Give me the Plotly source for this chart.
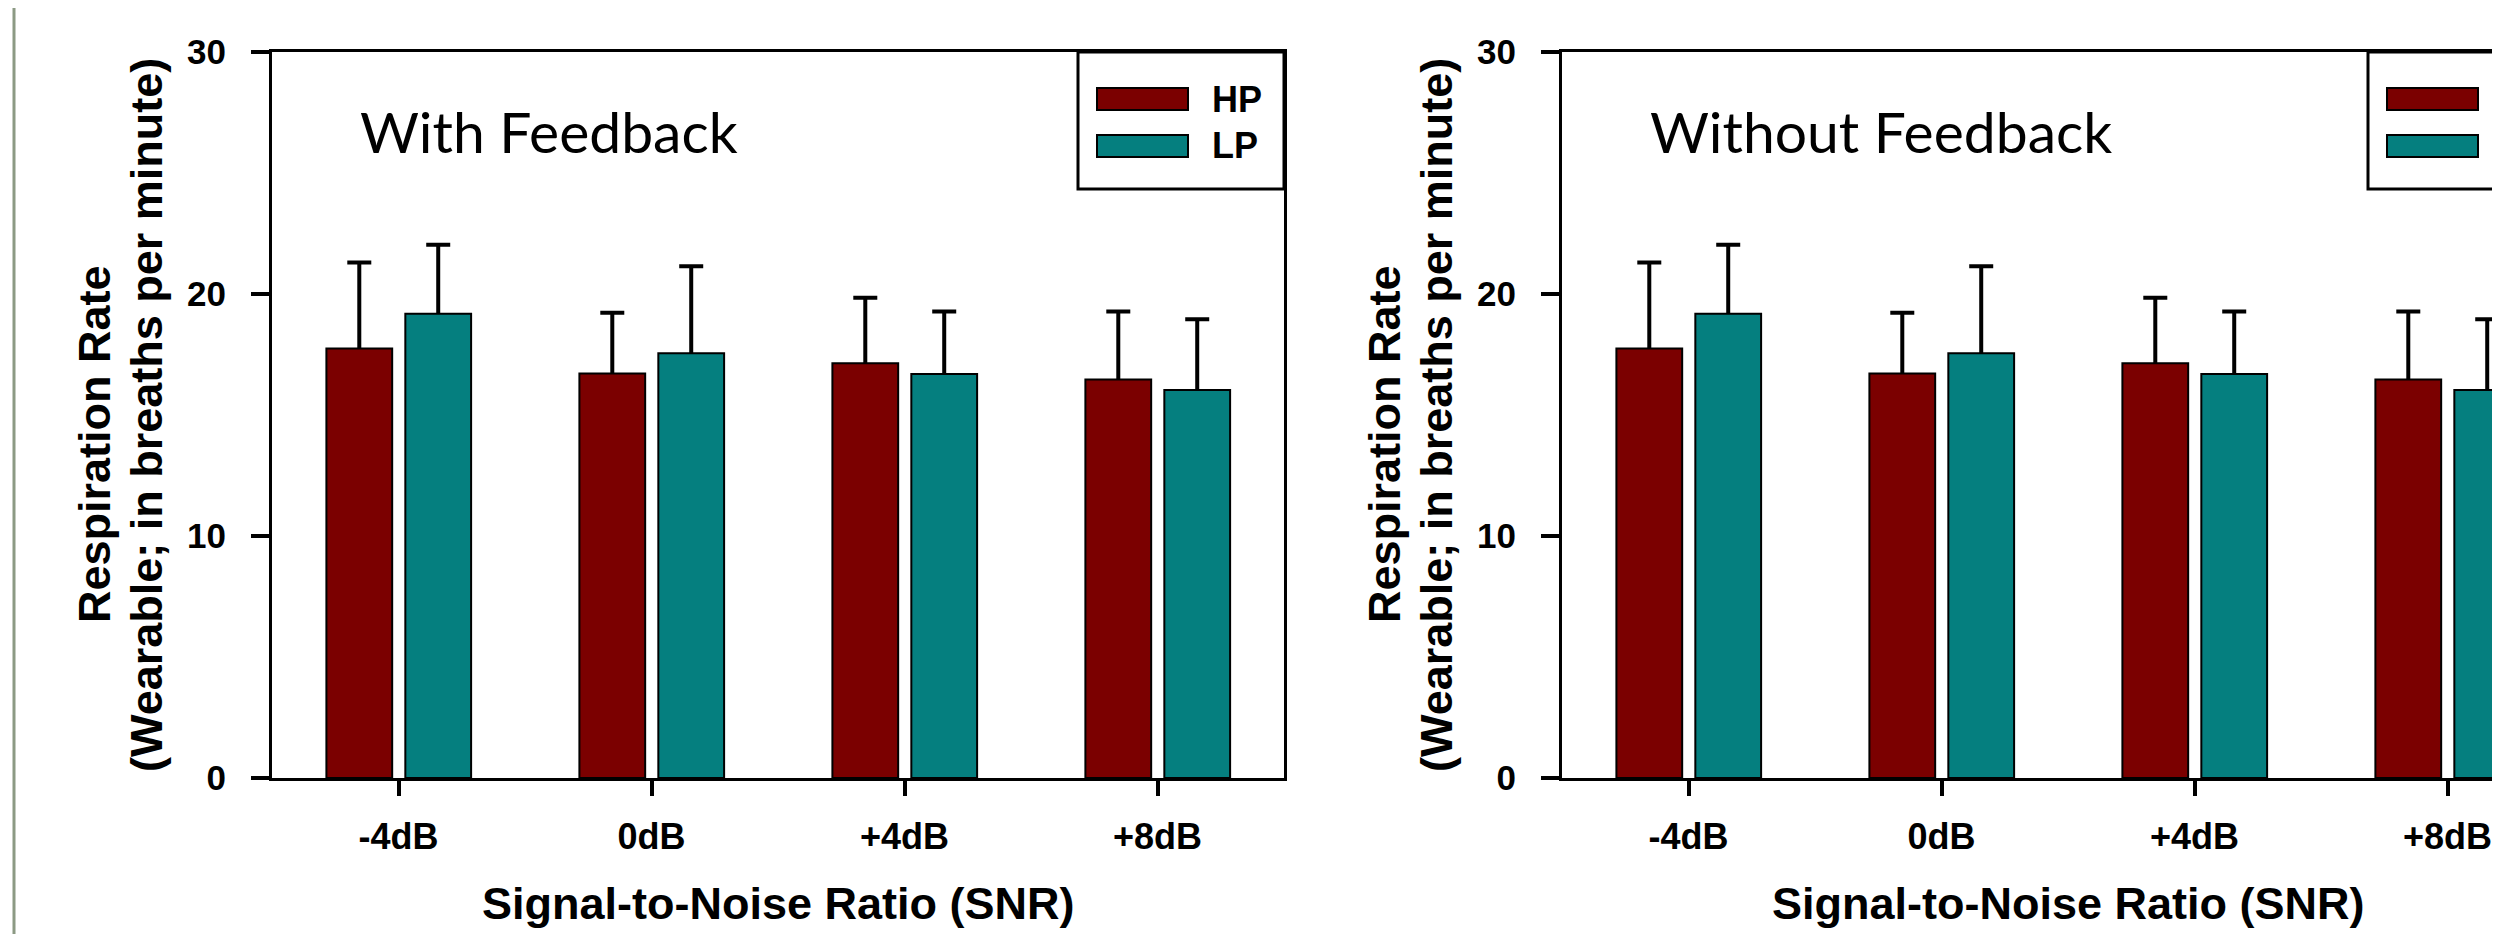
import plotly.graph_objects as go

# ---------------- data ----------------
snr_labels = ["-4dB", "0dB", "+4dB", "+8dB"]
series_names = ["HP", "LP"]
panel_titles = ["With Feedback", "Without Feedback"]

hp_with = [17.75, 16.72, 17.14, 16.47]
hp_with_err = [3.55, 2.51, 2.70, 2.81]
lp_with = [19.18, 17.55, 16.69, 16.03]
lp_with_err = [2.85, 3.60, 2.59, 2.93]

hp_without = [17.75, 16.72, 17.14, 16.47]
hp_without_err = [3.55, 2.51, 2.70, 2.81]
lp_without = [19.18, 17.55, 16.69, 16.03]
lp_without_err = [2.85, 3.60, 2.59, 2.93]

y_ticks = [0, 10, 20, 30]
y_title_line1 = "Respiration Rate"
y_title_line2 = "(Wearable; in breaths per minute)"
x_title = "Signal-to-Noise Ratio (SNR)"

# ---------------- styling / geometry ----------------
W, H = 2500, 934
OFF = 8  # page body margin offset of the rendered figure
HP_COLOR = "#7B0000"
LP_COLOR = "#057F7F"
BOLD = dict(family="Arial, Liberation Sans, sans-serif", color="black", weight="bold")

PLOT_W = 1012
TOP, BOTTOM = 52, 778
CAT_W = PLOT_W / 4.0
panel_left = [272, 1562]


def fx(p):
    return (p - OFF) / W


def fy(p):
    return 1 - (p - OFF) / H


fig = go.Figure()

panel_data = [
    (hp_with, hp_with_err, lp_with, lp_with_err),
    (hp_without, hp_without_err, lp_without, lp_without_err),
]

for i, (hp, hpe, lp, lpe) in enumerate(panel_data):
    xa = "x" if i == 0 else "x2"
    ya = "y" if i == 0 else "y2"
    series = [
        (series_names[0], hp, hpe, HP_COLOR, -0.285),
        (series_names[1], lp, lpe, LP_COLOR, 0.027),
    ]
    # error bars first (transparent carrier bars), so the real bars cover the lower half
    for name, vals, errs, color, off in series:
        fig.add_trace(go.Bar(
            x=snr_labels, y=vals, name=name + " SD", xaxis=xa, yaxis=ya,
            width=0.26, offset=off, showlegend=False, hoverinfo="skip",
            marker=dict(color="rgba(0,0,0,0)", line=dict(width=0)),
            error_y=dict(type="data", array=errs, visible=True,
                         color="black", thickness=4, width=12),
        ))
    for name, vals, errs, color, off in series:
        fig.add_trace(go.Bar(
            x=snr_labels, y=vals, name=name, xaxis=xa, yaxis=ya,
            width=0.26, offset=off, showlegend=False,
            marker=dict(color=color, line=dict(color="black", width=2)),
        ))

common_x = dict(
    type="category", categoryorder="array", categoryarray=snr_labels,
    showline=True, linecolor="black", linewidth=3, mirror=True,
    ticks="outside", ticklen=15, tickwidth=4, tickcolor="black",
    tickfont=dict(size=36, **BOLD), showgrid=False, zeroline=False,
    automargin=False, ticklabelstandoff=10,
)
common_y = dict(
    range=[0, 30], tickvals=y_ticks, showline=True, linecolor="black",
    linewidth=3, ticks="outside", ticklen=18, tickwidth=4, tickcolor="black",
    tickfont=dict(size=35, **BOLD), showgrid=False, zeroline=False,
    domain=[fy(BOTTOM), fy(TOP)], ticklabelstandoff=18, automargin=False,
)

right_span = (W + OFF - panel_left[1]) / CAT_W
fig.update_layout(
    width=W, height=H,
    margin=dict(l=0, r=0, t=0, b=0, pad=0, autoexpand=False),
    paper_bgcolor="white", plot_bgcolor="white", barmode="overlay",
    showlegend=False,
    xaxis=dict(domain=[fx(panel_left[0]), fx(panel_left[0] + PLOT_W)],
               range=[-0.5, 3.5], anchor="y", **common_x),
    xaxis2=dict(domain=[fx(panel_left[1]), 1.0],
                range=[-0.5, -0.5 + right_span], anchor="y2", **common_x),
    yaxis=dict(anchor="x", mirror=True, **common_y),
    yaxis2=dict(anchor="x2", mirror=False, **common_y),
)

shapes = []
annotations = []
for i, x0 in enumerate(panel_left):
    # legend box
    shapes.append(dict(type="rect", xref="paper", yref="paper",
                       x0=fx(x0 + 806), x1=fx(x0 + PLOT_W), y0=fy(189), y1=fy(TOP),
                       line=dict(color="black", width=3), fillcolor="white"))
    for name, color, yy0, yy1, ty in [
        (series_names[0], HP_COLOR, 88, 110, 100),
        (series_names[1], LP_COLOR, 135, 157, 145),
    ]:
        shapes.append(dict(type="rect", xref="paper", yref="paper",
                           x0=fx(x0 + 825), x1=fx(x0 + 916), y0=fy(yy1), y1=fy(yy0),
                           line=dict(color="black", width=2), fillcolor=color))
        if x0 + 938 < W:
            annotations.append(dict(text=name, xref="paper", yref="paper",
                                    x=fx(x0 + 938), y=fy(ty), xanchor="left", yanchor="middle",
                                    showarrow=False, font=dict(size=36, **BOLD)))
    # panel title
    annotations.append(dict(text=panel_titles[i], xref="paper", yref="paper",
                            x=fx(x0 + 86), y=fy(131), xanchor="left", yanchor="middle",
                            showarrow=False,
                            font=dict(size=57, family="Lato, Open Sans, sans-serif", color="black")))
    # y titles
    annotations.append(dict(text=y_title_line1, xref="paper", yref="paper",
                            x=fx(x0 - 178), y=fy(444), xanchor="center", yanchor="middle",
                            textangle=-90, showarrow=False, font=dict(size=45, **BOLD)))
    annotations.append(dict(text=y_title_line2, xref="paper", yref="paper",
                            x=fx(x0 - 125), y=fy(415), xanchor="center", yanchor="middle",
                            textangle=-90, showarrow=False, font=dict(size=45, **BOLD)))
    # x title
    annotations.append(dict(text=x_title, xref="paper", yref="paper",
                            x=fx(x0 + PLOT_W / 2), y=fy(903), xanchor="center", yanchor="middle",
                            showarrow=False, font=dict(size=45, **BOLD)))

# slide border line at far left
shapes.append(dict(type="line", xref="paper", yref="paper", x0=fx(14), x1=fx(14),
                   y0=0, y1=1, line=dict(color="#8C9A84", width=3)))

fig.update_layout(shapes=shapes, annotations=annotations)
fig.write_html("out.html")
